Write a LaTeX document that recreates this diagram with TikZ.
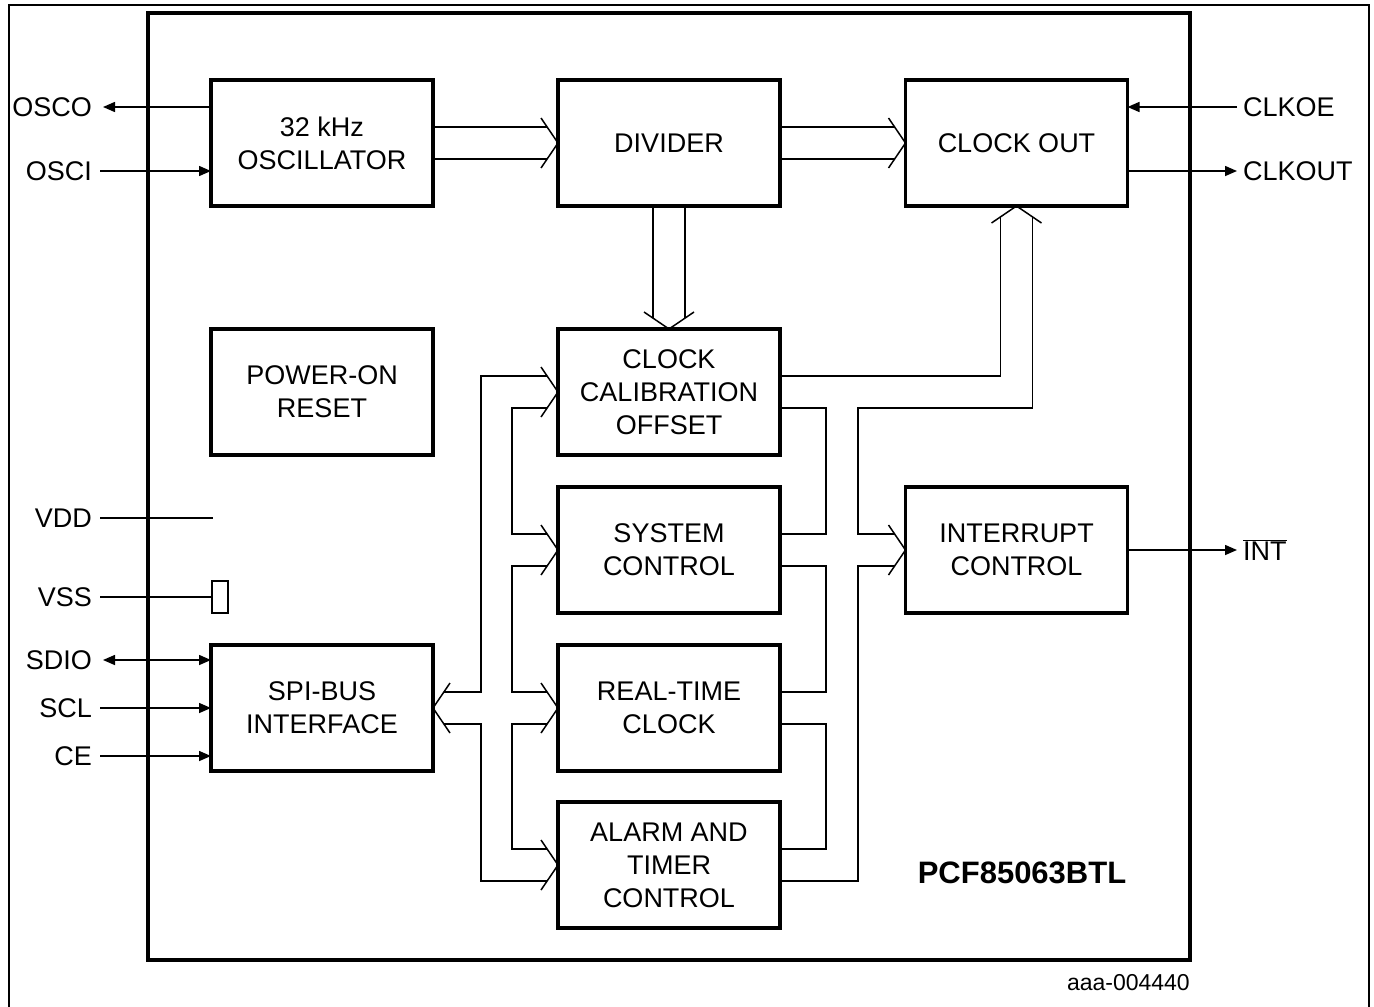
\documentclass[tikz,border=0pt]{standalone}
\usepackage{fontspec}
\setmainfont{Liberation Sans}
\usetikzlibrary{arrows.meta,calc}
\begin{document}
\begin{tikzpicture}[x=1pt,y=-1pt,
  blk/.style={draw, line width=3.5pt, minimum width=222pt, minimum height=126pt, inner sep=0pt, outer sep=0pt, align=center, font=\fontsize{27}{33}\selectfont},
  thin/.style={line width=1.5pt},
  pinl/.style={anchor=east, inner xsep=8pt, inner ysep=0pt, font=\fontsize{27}{33}\selectfont},
  pinr/.style={anchor=west, inner xsep=6pt, inner ysep=0pt, font=\fontsize{27}{33}\selectfont},
  tip/.style={-{Triangle[length=12pt,width=10pt]}},
  dtip/.style={{Triangle[length=12pt,width=10pt]}-{Triangle[length=12pt,width=10pt]}},
]
\useasboundingbox (0,0) rectangle (1374,1007);
% outer frame and chip border
\draw[line width=2pt] (9,1010) -- (9,5) -- (1369,5) -- (1369,1010);
\draw[line width=3.5pt] (148,13) rectangle (1190,960);

% blocks
\node[blk] (osc) at (322,143) {32 kHz\\OSCILLATOR};
\node[blk] (div) at (669,143) {DIVIDER};
\node[blk] (cko) at (1016.5,143) {CLOCK OUT};
\node[blk] (por) at (322,392) {POWER-ON\\RESET};
\node[blk] (cco) at (669,392) {CLOCK\\CALIBRATION\\OFFSET};
\node[blk] (sc) at (669,550) {SYSTEM\\CONTROL};
\node[blk] (rtc) at (669,708) {REAL-TIME\\CLOCK};
\node[blk] (atc) at (669,865) {ALARM AND\\TIMER\\CONTROL};
\node[blk] (intc) at (1016.5,550) {INTERRUPT\\CONTROL};
\node[blk] (spi) at (322,708) {SPI-BUS\\INTERFACE};

% pin labels
\node[pinl] (osco) at (100,107) {OSCO};
\node[pinl] (osci) at (100,171) {OSCI};
\node[pinl] (vdd) at (100,518) {VDD};
\node[pinl] (vss) at (100,597) {VSS};
\node[pinl] (sdio) at (100,660) {SDIO};
\node[pinl] (scl) at (100,708) {SCL};
\node[pinl] (ce) at (100,756) {CE};
\node[pinr] (clkoe) at (1237,107) {CLKOE};
\node[pinr] (clkout) at (1237,171) {CLKOUT};
\node[pinr, anchor=base west] (int) at (1237,560) {$\overline{\mbox{INT}}$};

\node[font=\bfseries\fontsize{31}{36}\selectfont, anchor=base, inner sep=0pt] (title) at (1022,883) {PCF85063BTL};
\node[font=\fontsize{23}{26}\selectfont, anchor=base east, inner sep=0pt] (code) at (1190,990) {aaa-004440};

% supply
\coordinate (vddend) at (213,518);
\node[draw, thin, minimum width=16pt, minimum height=32pt, inner sep=0pt, outer sep=0pt] (vssbox) at (220,597) {};
\draw[thin] (vdd.east) -- (vddend);
\draw[thin] (vss.east) -- (vssbox.west);

% pin connectors
\draw[thin,tip] (osc.west |- osco) -- ([xshift=3pt]osco.east);
\draw[thin,tip] (osci.east) -- (osc.west |- osci);
\draw[thin,dtip] ([xshift=3pt]sdio.east) -- (spi.west |- sdio);
\draw[thin,tip] (scl.east) -- (spi.west |- scl);
\draw[thin,tip] (ce.east) -- (spi.west |- ce);
\draw[thin,tip] (clkoe.west) -- (cko.east |- clkoe);
\draw[thin,tip] (cko.east |- clkout) -- (clkout.west);
\draw[thin,tip] (intc.east) -- (int.west |- intc.east);

% top buses
\draw[thin] ($(osc.east)+(0,-16)$) -- ($(div.west)+(-10.9,-16)$);
\draw[thin] ($(osc.east)+(0,16)$) -- ($(div.west)+(-10.9,16)$);
\draw[thin] ($(div.west)+(-17,-25)$) -- (div.west) -- ($(div.west)+(-17,25)$);
\draw[thin] ($(div.east)+(0,-16)$) -- ($(cko.west)+(-10.9,-16)$);
\draw[thin] ($(div.east)+(0,16)$) -- ($(cko.west)+(-10.9,16)$);
\draw[thin] ($(cko.west)+(-17,-25)$) -- (cko.west) -- ($(cko.west)+(-17,25)$);

% divider -> calibration
\draw[thin] ($(div.south)+(-16,0)$) -- ($(cco.north)+(-16,-10.9)$);
\draw[thin] ($(div.south)+(16,0)$) -- ($(cco.north)+(16,-10.9)$);
\draw[thin] ($(cco.north)+(-25,-17)$) -- (cco.north) -- ($(cco.north)+(25,-17)$);

% bus up to clock out
\draw[thin] ($(cko.south)+(-25,17)$) -- (cko.south) -- ($(cko.south)+(25,17)$);
\draw[thin] ($(cco.east)+(0,-16)$) -| ($(cko.south)+(-16,10.9)$);
\draw[thin] ($(cko.south)+(16,10.9)$) |- ($(cco.east)+(78,16)$) |- ($(intc.west)+(-10.9,-16)$);
\draw[thin] ($(atc.east)+(0,16)$) -- ++(78,0) |- ($(intc.west)+(-10.9,16)$);
\draw[thin] ($(intc.west)+(-17,-25)$) -- (intc.west) -- ($(intc.west)+(-17,25)$);

% right loops
\draw[thin] ($(cco.east)+(0,16)$) -- ++(46,0) |- ($(sc.east)+(0,-16)$);
\draw[thin] ($(sc.east)+(0,16)$) -- ++(46,0) |- ($(rtc.east)+(0,-16)$);
\draw[thin] ($(rtc.east)+(0,16)$) -- ++(46,0) |- ($(atc.east)+(0,-16)$);

% left bus from SPI
\draw[thin] ($(spi.east)+(17,-25)$) -- (spi.east) -- ($(spi.east)+(17,25)$);
\draw[thin] ($(spi.east)+(10.9,-16)$) -- ++(37.1,0) |- ($(cco.west)+(-10.9,-16)$);
\draw[thin] ($(spi.east)+(10.9,16)$) -- ++(37.1,0) |- ($(atc.west)+(-10.9,16)$);
\draw[thin] ($(cco.west)+(-10.9,16)$) -- ++(-35.1,0) |- ($(sc.west)+(-10.9,-16)$);
\draw[thin] ($(sc.west)+(-10.9,16)$) -- ++(-35.1,0) |- ($(rtc.west)+(-10.9,-16)$);
\draw[thin] ($(rtc.west)+(-10.9,16)$) -- ++(-35.1,0) |- ($(atc.west)+(-10.9,-16)$);
\foreach \b in {cco,sc,rtc,atc}{
  \draw[thin] ($(\b.west)+(-17,-25)$) -- (\b.west) -- ($(\b.west)+(-17,25)$);
}
\end{tikzpicture}
\end{document}
